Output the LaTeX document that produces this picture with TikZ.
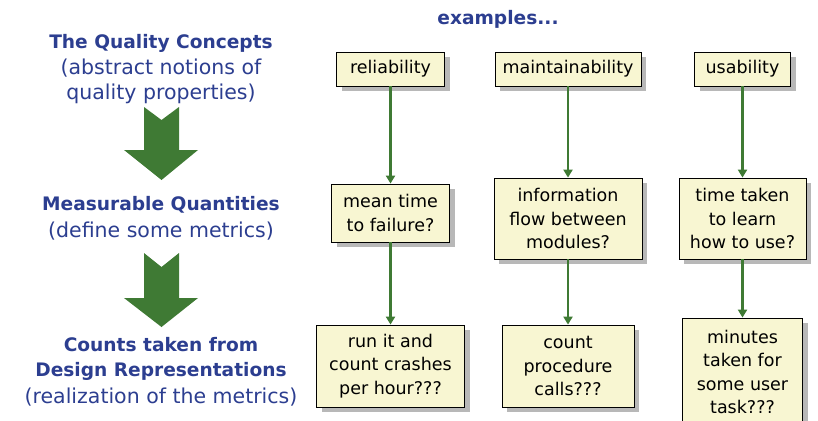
\documentclass[tikz,border=0pt]{standalone}
\usepackage{fontspec}
\setmainfont{DejaVu Sans}
\usetikzlibrary{arrows.meta,shadows}
\definecolor{headblue}{HTML}{2C3E90}
\definecolor{flowgreen}{HTML}{3F7A34}
\definecolor{boxfill}{HTML}{F8F6D2}
\tikzset{
  heading/.style={text=headblue,align=center,inner sep=0pt,font=\fontsize{18.6}{25}\selectfont\bfseries},
  subhead/.style={text=headblue,align=center,inner sep=0pt,font=\fontsize{20.5}{25}\selectfont},
  metricbox/.style={draw=black,line width=0.8pt,fill=boxfill,align=center,inner sep=0pt,
    font=\fontsize{17.5}{23.5}\selectfont,
    drop shadow={shadow xshift=5pt,shadow yshift=-5pt,fill=black,opacity=0.28}},
  flow/.style={draw=flowgreen,line width=2.6pt,-{Triangle[length=8pt,width=9pt]}},
  bigarrow/.style={fill=flowgreen,draw=none}
}
\begin{document}
\begin{tikzpicture}[x=1pt,y=-1pt]
\useasboundingbox (0,0) rectangle (818,420);

% big downward arrows between the three levels
\fill[bigarrow] (144,107) -- (161.5,120) -- (179,107) -- (179,150) -- (198,150)
  -- (161.5,180) -- (124,150) -- (144,150) -- cycle;
\fill[bigarrow] (144,253) -- (161.5,267) -- (179,253) -- (179,298) -- (198,298)
  -- (161.5,327) -- (124,298) -- (144,298) -- cycle;

% left-hand level labels
\node[heading] (concepts) at (161,43) {The Quality Concepts};
\node[subhead] (abstract) at (161,81.5) {(abstract notions of\\quality properties)};
\node[heading] (measurable) at (161,205) {Measurable Quantities};
\node[subhead] (define) at (161,231) {(define some metrics)};
\node[heading] (counts) at (161,359) {Counts taken from\\Design Representations};
\node[subhead] (realization) at (161,397) {(realization of the metrics)};

\node[heading] (examples) at (498,19) {examples...};

% quality concepts
\node[metricbox,minimum width=108pt,minimum height=34pt] (rel) at (390.5,69) {reliability};
\node[metricbox,minimum width=146pt,minimum height=34pt] (main) at (568,69) {maintainability};
\node[metricbox,minimum width=96pt,minimum height=34pt] (usa) at (742.5,69) {usability};

% measurable quantities
\node[metricbox,minimum width=118pt,minimum height=58pt] (mttf) at (390.5,213) {mean time\\to failure?};
\node[metricbox,minimum width=148pt,minimum height=81pt] (info) at (568,218.5) {information\\flow between\\modules?};
\node[metricbox,minimum width=127pt,minimum height=81pt] (learn) at (742.5,218.5) {time taken\\to learn\\how to use?};

% counts
\node[metricbox,minimum width=148pt,minimum height=82pt] (crash) at (390.5,366) {run it and\\count crashes\\per hour???};
\node[metricbox,minimum width=132pt,minimum height=82pt] (calls) at (568,366) {count\\procedure\\calls???};
\node[metricbox,minimum width=120pt,minimum height=108pt] (minutes) at (742.5,372) {minutes\\taken for\\some user\\task???};

% connectors
\draw[flow] (rel) -- (mttf);
\draw[flow] (main) -- (info);
\draw[flow] (usa) -- (learn);
\draw[flow] (mttf) -- (crash);
\draw[flow] (info) -- (calls);
\draw[flow] (learn) -- (minutes);
\end{tikzpicture}
\end{document}
